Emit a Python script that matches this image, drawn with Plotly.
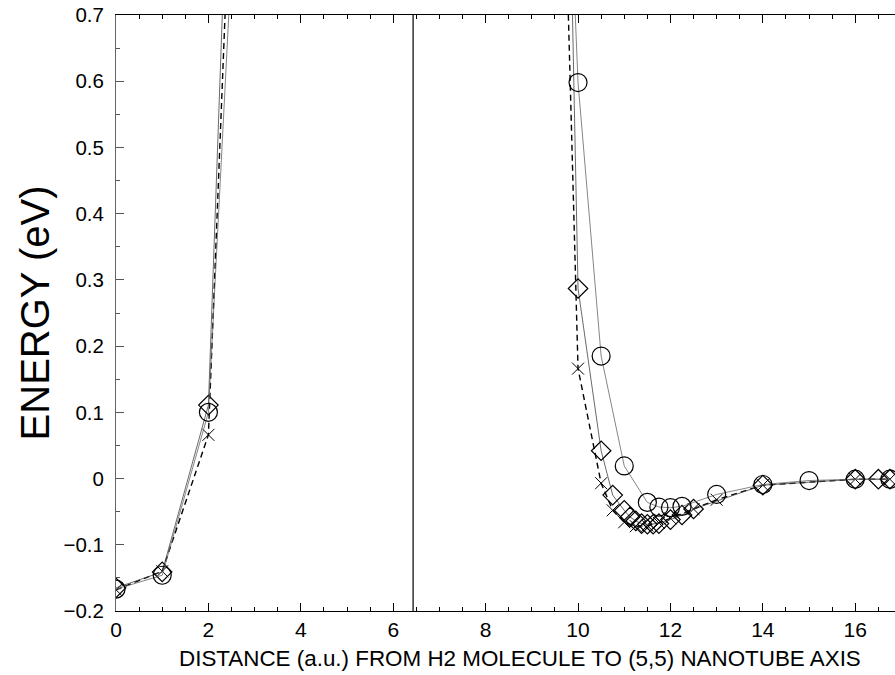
import plotly.graph_objects as go

# ---- data ----
circ_x = [0, 1, 2, 2.5, None, 9.5, 10, 10.5, 11, 11.5, 11.75, 12, 12.25, 13, 14, 15, 16, 16.75]
circ_y = [-0.167, -0.146, 0.100, 0.78, None, 1.45, 0.598, 0.185, 0.019, -0.036, -0.043, -0.044, -0.042,
          -0.024, -0.009, -0.003, -0.001, -0.001]

diam_x = [0, 1, 2, 2.5, None, 9.5, 10, 10.5, 10.75, 11, 11.125, 11.25, 11.375, 11.5, 11.625, 11.75,
          12, 12.25, 12.5, 14, 16, 16.5, 16.75]
diam_y = [-0.165, -0.141, 0.111, 1.09, None, 2.0, 0.287, 0.042, -0.025, -0.048, -0.058, -0.064, -0.068,
          -0.069, -0.069, -0.068, -0.062, -0.055, -0.046, -0.010, -0.001, -0.001, -0.001]

cross_x = [0, 1, 2, 2.5, None, 9.5, 10, 10.5, 10.75, 11, 11.25, 11.5, 11.75, 12, 12.5, 13, 14, 16, 16.75]
cross_y = [-0.168, -0.140, 0.066, 0.946, None, 1.44, 0.166, -0.007, -0.048, -0.066, -0.072, -0.071,
           -0.067, -0.060, -0.046, -0.032, -0.010, -0.001, -0.001]

wall_x = 6.43
x_range = [0, 16.86]
y_range = [-0.2, 0.7]
x_ticks = [0, 2, 4, 6, 8, 10, 12, 14, 16]
y_ticks = [-0.2, -0.1, 0, 0.1, 0.2, 0.3, 0.4, 0.5, 0.6, 0.7]
y_ticktext = ["\u22120.2", "\u22120.1", "0", "0.1", "0.2", "0.3", "0.4", "0.5", "0.6", "0.7"]
x_title = "DISTANCE (a.u.) FROM H2 MOLECULE TO (5,5) NANOTUBE AXIS"
y_title = "ENERGY (eV)"

FONT = "Liberation Sans, Arial, Helvetica, sans-serif"

fig = go.Figure()
fig.add_trace(go.Scatter(
    x=cross_x, y=cross_y, mode="lines+markers", connectgaps=False,
    line=dict(color="black", width=1.4, dash="6px,4px"),
    marker=dict(symbol="x-thin-open", size=12, line=dict(color="#777", width=1)),
    showlegend=False))
fig.add_trace(go.Scatter(
    x=diam_x, y=diam_y, mode="lines+markers", connectgaps=False,
    line=dict(color="#444", width=0.8),
    marker=dict(symbol="diamond-open", size=15, color="black", line=dict(color="black", width=1.2)),
    showlegend=False))
fig.add_trace(go.Scatter(
    x=circ_x, y=circ_y, mode="lines+markers", connectgaps=False,
    line=dict(color="#666", width=0.8),
    marker=dict(symbol="circle-open", size=18, color="black", line=dict(color="black", width=1.2)),
    showlegend=False))

fig.add_shape(type="line", xref="x", yref="paper", x0=wall_x, x1=wall_x, y0=0, y1=1,
              line=dict(color="black", width=1.2))

fig.add_annotation(text=x_title, xref="paper", yref="paper", x=0.5186, y=-0.0789,
                   xanchor="center", yanchor="middle", showarrow=False,
                   font=dict(size=22.4, family=FONT, color="black"))

fig.update_layout(
    width=895, height=675,
    margin=dict(l=116, r=0, t=15, b=64),
    plot_bgcolor="white", paper_bgcolor="white",
    font=dict(family=FONT, size=20, color="black"),
    xaxis=dict(
        range=x_range, tickvals=x_ticks, ticks="inside", ticklen=8, tickwidth=1.2, tickcolor="black",
        showline=True, linecolor="black", linewidth=1, mirror="allticks", showgrid=False, zeroline=False,
        automargin=False, ticklabeloverflow="allow",
        minor=dict(dtick=0.5, tick0=0, ticks="inside", ticklen=4, tickcolor="black", showgrid=False),
        tickfont=dict(size=21),
    ),
    yaxis=dict(
        range=y_range, tickvals=y_ticks, ticktext=y_ticktext, ticks="inside", ticklen=8, tickwidth=1,
        tickcolor="#555", showline=True, linecolor="#666", linewidth=1, mirror=False,
        showgrid=False, zeroline=False, automargin=False, ticklabelstandoff=7, ticklabeloverflow="allow",
        minor=dict(dtick=0.05, tick0=0, ticks="inside", ticklen=4, tickcolor="#555", showgrid=False),
        title=dict(text=y_title, font=dict(size=40), standoff=1),
        tickfont=dict(size=20.5),
    ),
)

fig.write_html("out.html", config={"displayModeBar": False},
               post_script="document.body.style.margin='0';document.body.style.overflow='hidden';")
